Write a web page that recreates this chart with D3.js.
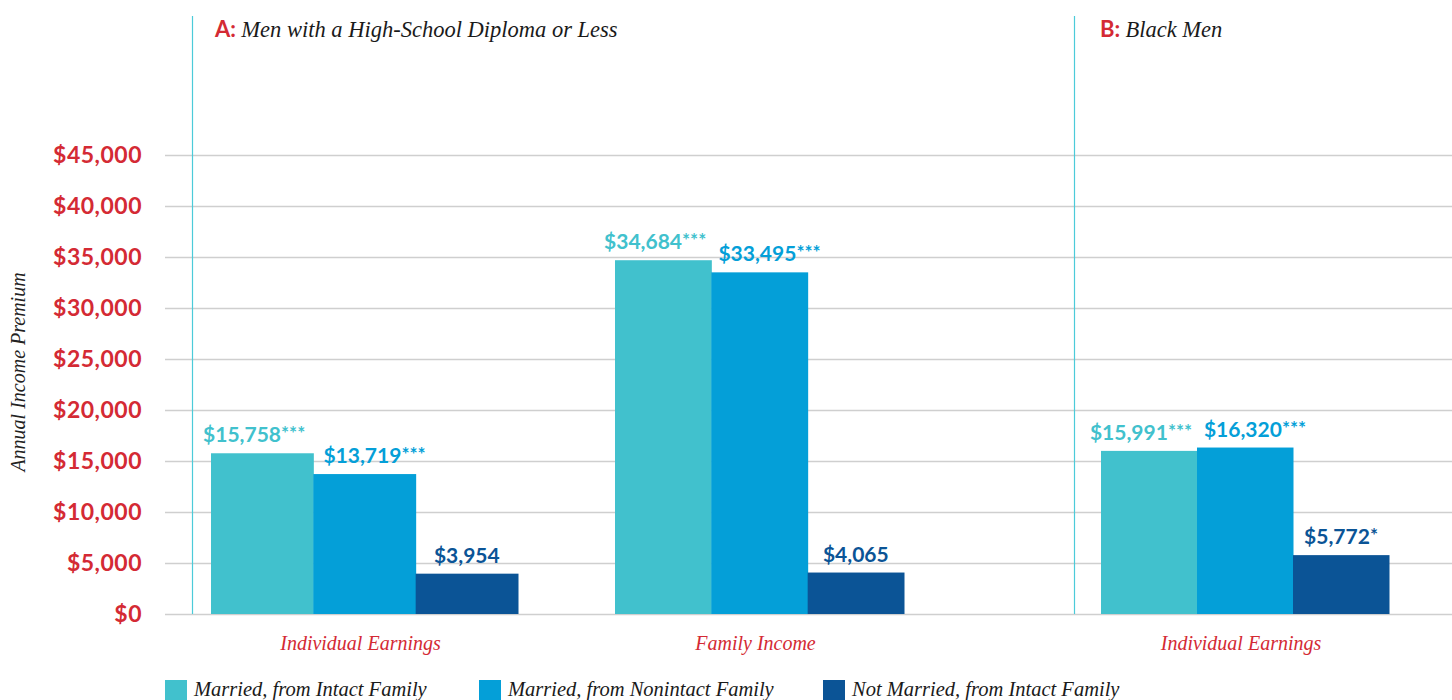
<!DOCTYPE html>
<html>
<head>
<meta charset="utf-8">
<script src="https://cdn.jsdelivr.net/npm/d3@7"></script>
<style>
  body { margin: 0; background: #fff; }
</style>
</head>
<body>
<svg id="chart" width="1452" height="700"></svg>
<script>
// data
var groups = ["A-ind", "A-fam", "B-ind"];
var groupLabels = ["Individual Earnings", "Family Income", "Individual Earnings"];
var seriesNames = ["Married, from Intact Family", "Married, from Nonintact Family", "Not Married, from Intact Family"];
var values = [
  [15758, 13719, 3954],
  [34684, 33495, 4065],
  [15991, 16320, 5772]
];
var stars = [
  ["***", "***", ""],
  ["***", "***", ""],
  ["***", "***", "*"]
];
var yTicks = [0, 5000, 10000, 15000, 20000, 25000, 30000, 35000, 40000, 45000];
var panels = [
  { key: "A:", title: "Men with a High-School Diploma or Less" },
  { key: "B:", title: "Black Men" }
];

var colors = ["#41c1cd", "#049fd8", "#0b5496"];
var labelNudge = [-8, 10, 0];
var red = "#d42a34";
var sans = "Lato, 'Open Sans', sans-serif";
var serif = "'Liberation Serif', 'DejaVu Serif', serif";

var svg = d3.select("#chart");

var y = d3.scaleLinear().domain([0, 45000]).range([614, 155]);

// group centers / widths (layout, not data)
var gx = d3.scaleOrdinal().domain(groups).range([364.5, 759.5, 1245]);
var gw = d3.scaleOrdinal().domain(groups).range([307, 289, 288]);
var fmt = d3.format("$,");

// gridlines
svg.append("g").selectAll("line")
  .data(yTicks)
  .join("line")
  .attr("x1", 165)
  .attr("x2", 1452)
  .attr("y1", function(d) { return Math.round(y(d)) + 0.5; })
  .attr("y2", function(d) { return Math.round(y(d)) + 0.5; })
  .attr("stroke", "#cfcfcf")
  .attr("stroke-width", 1.5);

// y axis labels
svg.append("g").selectAll("text")
  .data(yTicks)
  .join("text")
  .attr("x", 142)
  .attr("y", function(d) { return y(d) + 8; })
  .attr("text-anchor", "end")
  .attr("font-family", sans)
  .attr("font-weight", 700)
  .attr("font-size", "23px")
  .attr("letter-spacing", "0.5px")
  .attr("fill", red)
  .text(function(d) { return fmt(d); });

svg.append("text")
  .attr("transform", "translate(25,372) rotate(-90)")
  .attr("text-anchor", "middle")
  .attr("font-family", serif)
  .attr("font-style", "italic")
  .attr("font-size", "20px")
  .attr("fill", "#222")
  .text("Annual Income Premium");

// panel dividers
svg.append("g").selectAll("line")
  .data([192.5, 1074.5])
  .join("line")
  .attr("x1", function(d) { return d; })
  .attr("x2", function(d) { return d; })
  .attr("y1", 16)
  .attr("y2", 614)
  .attr("stroke", "#4ccbd9")
  .attr("stroke-width", 1.2);

// panel titles
var titleX = [215, 1100];
panels.forEach(function(p, i) {
  var t = svg.append("text")
    .attr("x", titleX[i])
    .attr("y", 37);
  t.append("tspan")
    .attr("font-family", sans)
    .attr("font-weight", 700)
    .attr("font-size", "22px")
    .attr("fill", red)
    .text(p.key + " ");
  t.append("tspan")
    .attr("font-family", serif)
    .attr("font-style", "italic")
    .attr("font-size", "22.5px")
    .attr("fill", "#1a1a1a")
    .text(p.title);
});

// bars
groups.forEach(function(g, gi) {
  var x1 = d3.scaleBand()
    .domain(seriesNames)
    .range([gx(g) - gw(g) / 2, gx(g) + gw(g) / 2])
    .padding(0);

  var grp = svg.append("g");

  grp.selectAll("rect")
    .data(values[gi])
    .join("rect")
    .attr("x", function(d, i) { return x1(seriesNames[i]); })
    .attr("y", function(d) { return y(d); })
    .attr("width", x1.bandwidth() + 0.5)
    .attr("height", function(d) { return y(0) - y(d); })
    .attr("fill", function(d, i) { return colors[i]; });

  var lab = grp.selectAll("text.val")
    .data(values[gi])
    .join("text")
    .attr("class", "val")
    .attr("x", function(d, i) { return x1(seriesNames[i]) + x1.bandwidth() / 2 + labelNudge[i]; })
    .attr("y", function(d) { return y(d) - 11; })
    .attr("text-anchor", "middle")
    .attr("font-family", sans)
    .attr("font-weight", 700)
    .attr("font-size", "21px")
    .attr("fill", function(d, i) { return colors[i]; });
  lab.append("tspan").text(function(d) { return fmt(d); });
  lab.append("tspan")
    .attr("font-size", "19px")
    .attr("dy", -2)
    .text(function(d, i) { return stars[gi][i]; });

  grp.append("text")
    .attr("x", gx(g) - 4)
    .attr("y", 650)
    .attr("text-anchor", "middle")
    .attr("font-family", serif)
    .attr("font-style", "italic")
    .attr("font-size", "20px")
    .attr("fill", red)
    .text(groupLabels[gi]);
});

// legend
var legX = [165, 479, 823];
var leg = svg.append("g").selectAll("g")
  .data(seriesNames)
  .join("g")
  .attr("transform", function(d, i) { return "translate(" + legX[i] + ",680)"; });
leg.append("rect")
  .attr("width", 22)
  .attr("height", 22)
  .attr("fill", function(d, i) { return colors[i]; });
leg.append("text")
  .attr("x", 29)
  .attr("y", 16)
  .attr("font-family", serif)
  .attr("font-style", "italic")
  .attr("font-size", "20.5px")
  .attr("fill", "#1a1a1a")
  .text(function(d) { return d; });
</script>
</body>
</html>
